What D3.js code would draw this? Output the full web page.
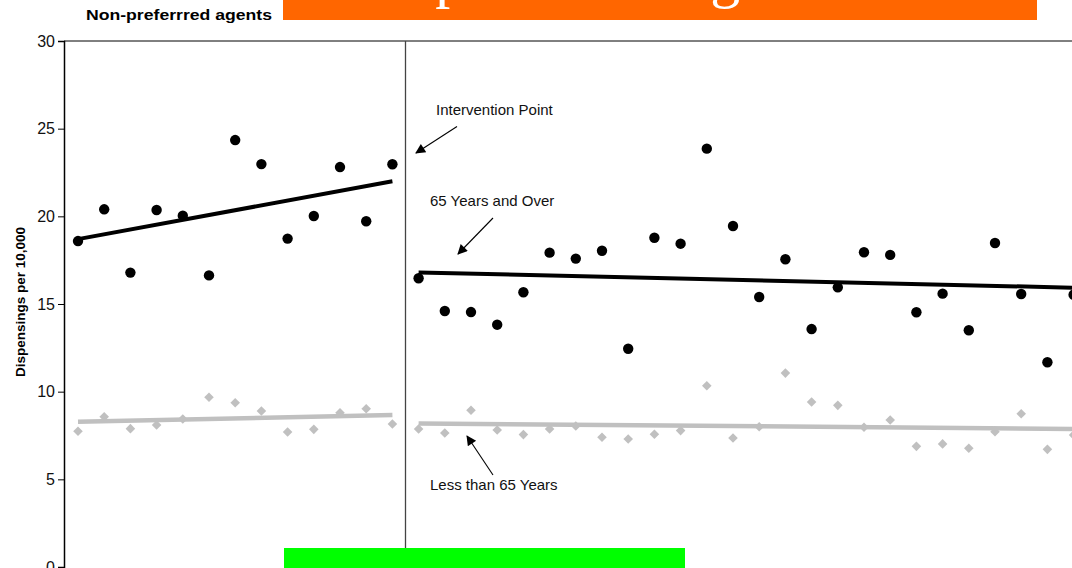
<!DOCTYPE html>
<html>
<head>
<meta charset="utf-8">
<script src="https://cdn.jsdelivr.net/npm/d3@7"></script>
<style>
  html, body { margin: 0; padding: 0; background: #fff; overflow: hidden; }
  svg { display: block; }
</style>
</head>
<body>
<svg id="chart" width="1072" height="568"></svg>
<script>
// ---- data ----
const overPre  = [18.59, 20.40, 16.79, 20.36, 20.04, 16.63, 24.35, 22.98, 18.73, 20.02, 22.81, 19.72, 22.97];
const overPost = [16.47, 14.60, 14.54, 13.82, 15.67, 17.93, 17.59, 18.04, 12.45, 18.78, 18.44, 23.86, 19.45,
                  15.40, 17.55, 13.57, 15.95, 17.95, 17.80, 14.53, 15.59, 13.50, 18.48, 15.57, 11.68, 15.53];
const underPre  = [7.74, 8.57, 7.89, 8.10, 8.44, 9.68, 9.37, 8.90, 7.70, 7.85, 8.80, 9.03, 8.16];
const underPost = [7.87, 7.64, 8.94, 7.81, 7.55, 7.87, 8.04, 7.40, 7.30, 7.57, 7.78, 10.34, 7.36,
                   8.00, 11.06, 9.41, 9.22, 7.97, 8.38, 6.88, 7.02, 6.77, 7.72, 8.74, 6.71, 7.53];
const overTrendPre   = [18.70, 22.00];
const overTrendPost  = [16.80, 15.93];
const underTrendPre  = [8.29, 8.67];
const underTrendPost = [8.19, 7.87];
const yTicks = [0, 5, 10, 15, 20, 25, 30];
const interventionIndex = 12.5;
const chartTitle = "Non-preferred Agents";
const subTitle = "Non-preferrred agents";
const yLabel = "Dispensings per 10,000";

// ---- layout ----
const svg = d3.select("#chart");
const x = d3.scaleLinear().domain([0, 38]).range([78, 1073.6]);
const y = d3.scaleLinear().domain([0, 30]).range([567, 41]);
const nPre = overPre.length;
const preIdx = d3.range(nPre);
const postIdx = d3.range(nPre, nPre + overPost.length);
const sans = "Liberation Sans, Arial, sans-serif";

// orange title banner (title cropped at top)
svg.append("rect").attr("x", 283).attr("y", 0).attr("width", 754).attr("height", 20).attr("fill", "#ff6600");
svg.append("text").attr("x", 312).attr("y", -4)
  .attr("font-family", "Liberation Serif, Times New Roman, serif")
  .attr("font-size", 60).attr("fill", "#fff").text(chartTitle);

svg.append("text").attr("x", 86).attr("y", 20)
  .attr("font-family", sans)
  .attr("font-size", 15.5).attr("font-weight", "bold").attr("fill", "#000")
  .attr("textLength", 186).attr("lengthAdjust", "spacingAndGlyphs").text(subTitle);

// top border
svg.append("line").attr("x1", 64).attr("x2", 1072).attr("y1", y(30)).attr("y2", y(30))
  .attr("stroke", "#000").attr("stroke-width", 1);

// y axis
const yAxis = d3.axisLeft(y).tickValues(yTicks).tickSize(6).tickPadding(3).tickFormat(d3.format("d"));
const ya = svg.append("g").attr("transform", "translate(64,0)").call(yAxis);
ya.select(".domain").attr("stroke", "#000").attr("stroke-width", 1.5);
ya.selectAll(".tick line").attr("stroke", "#000");
ya.selectAll(".tick text").attr("font-family", sans)
  .attr("font-size", 16).attr("fill", "#111");

svg.append("text")
  .attr("transform", "translate(25,302) rotate(-90)")
  .attr("text-anchor", "middle")
  .attr("font-family", sans)
  .attr("font-size", 13.5).attr("font-weight", "bold").text(yLabel);

// intervention line
svg.append("line").attr("x1", x(interventionIndex)).attr("x2", x(interventionIndex))
  .attr("y1", y(30)).attr("y2", y(0)).attr("stroke", "#444").attr("stroke-width", 1.3);

// trend lines
function trend(vals, i0, i1, color, w) {
  svg.append("line").attr("x1", x(i0)).attr("x2", x(i1))
    .attr("y1", y(vals[0])).attr("y2", y(vals[1]))
    .attr("stroke", color).attr("stroke-width", w).attr("stroke-linecap", "butt");
}
trend(underTrendPre, 0, nPre - 1, "#c0c0c0", 4.5);
trend(underTrendPost, nPre, 38, "#c0c0c0", 4.5);

// diamonds
const under = preIdx.map((i, k) => [i, underPre[k]]).concat(postIdx.map((i, k) => [i, underPost[k]]));
svg.append("g").selectAll("path").data(under).join("path")
  .attr("d", d3.symbol().type(d3.symbolSquare).size(46))
  .attr("transform", d => `translate(${x(d[0])},${y(d[1])}) rotate(45)`)
  .attr("fill", "#c0c0c0");

trend(overTrendPre, 0, nPre - 1, "#000", 4);
trend(overTrendPost, nPre, 38, "#000", 4);

const over = preIdx.map((i, k) => [i, overPre[k]]).concat(postIdx.map((i, k) => [i, overPost[k]]));
svg.append("g").selectAll("circle").data(over).join("circle")
  .attr("cx", d => x(d[0])).attr("cy", d => y(d[1])).attr("r", 5.2).attr("fill", "#000");

// annotations
svg.append("defs").append("marker").attr("id", "arr")
  .attr("viewBox", "0 0 10 10").attr("refX", 9).attr("refY", 5)
  .attr("markerWidth", 13).attr("markerHeight", 10).attr("markerUnits", "userSpaceOnUse")
  .attr("orient", "auto")
  .append("path").attr("d", "M0,0 L10,5 L0,10 Z").attr("fill", "#000");

function annot(text, tx, ty, x1, y1, x2, y2) {
  svg.append("text").attr("x", tx).attr("y", ty)
    .attr("font-family", sans).attr("font-size", 15)
    .attr("fill", "#111").text(text);
  svg.append("line").attr("x1", x1).attr("y1", y1).attr("x2", x2).attr("y2", y2)
    .attr("stroke", "#000").attr("stroke-width", 1.1).attr("marker-end", "url(#arr)");
}
annot("Intervention Point", 436, 115, 457, 126.5, 416, 153);
annot("65 Years and Over", 430, 206, 493, 218, 458, 254);
annot("Less than 65 Years", 430, 490, 493, 475, 467, 436);

// green bar
svg.append("rect").attr("x", 284).attr("y", 548).attr("width", 401).attr("height", 20).attr("fill", "#00ff00");
</script>
</body>
</html>
